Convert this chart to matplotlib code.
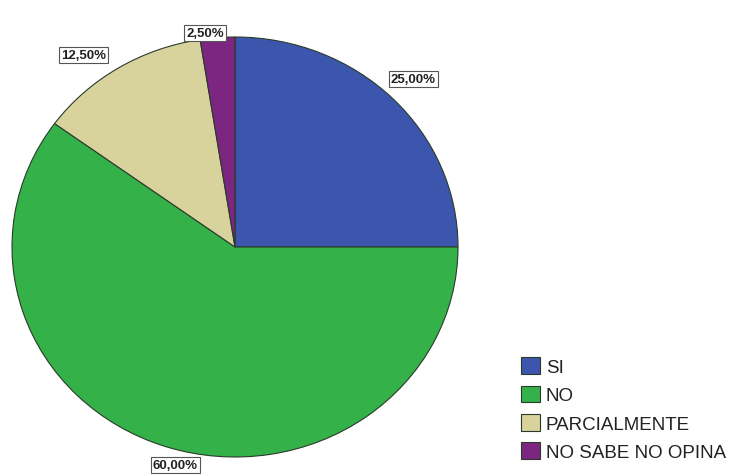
import matplotlib
matplotlib.use("Agg")
import matplotlib.pyplot as plt
import numpy as np

categories = ["SI", "NO", "PARCIALMENTE", "NO SABE NO OPINA"]
values = [25.0, 60.0, 12.5, 2.5]
pct_labels = ["25,00%", "60,00%", "12,50%", "2,50%"]
colors = ["#3d56ad", "#35b14a", "#d8d29d", "#7d2681"]
label_radius = [1.13, 1.07, 1.14, 1.03]
label_shift = [0, 3.5, 5, 3]  # degrees

plt.rcParams['font.family'] = ['Liberation Sans', 'DejaVu Sans']

fig = plt.figure(figsize=(7.34, 4.77), dpi=100)
ax = fig.add_axes([12/734, 19/477, 446/734, 420/477])
wedges, _ = ax.pie(values, colors=colors, startangle=90, counterclock=False,
                   wedgeprops=dict(edgecolor="#2a3a2a", linewidth=0.8))
ax.set_aspect('auto')
ax.set_xlim(-1, 1)
ax.set_ylim(-1, 1)

for w, lab, r, s in zip(wedges, pct_labels, label_radius, label_shift):
    ang = np.deg2rad((w.theta1 + w.theta2) / 2 + s)
    ax.text(r * np.cos(ang), r * np.sin(ang), lab, ha='center', va='center',
            fontsize=9.5, fontweight='bold', color='#222222',
            bbox=dict(boxstyle='square,pad=0.15', facecolor='white',
                      edgecolor='#555555', linewidth=0.8))

leg = fig.legend(wedges, categories, loc='upper left',
                 bbox_to_anchor=(512/734, 1 - 349/477), frameon=False,
                 fontsize=13.5, handlelength=1.0, handleheight=1.0,
                 handletextpad=0.3, labelspacing=0.5, borderpad=0)
for t in leg.get_texts():
    t.set_color('#222222')

fig.savefig("out.png", dpi=100, facecolor='white')
